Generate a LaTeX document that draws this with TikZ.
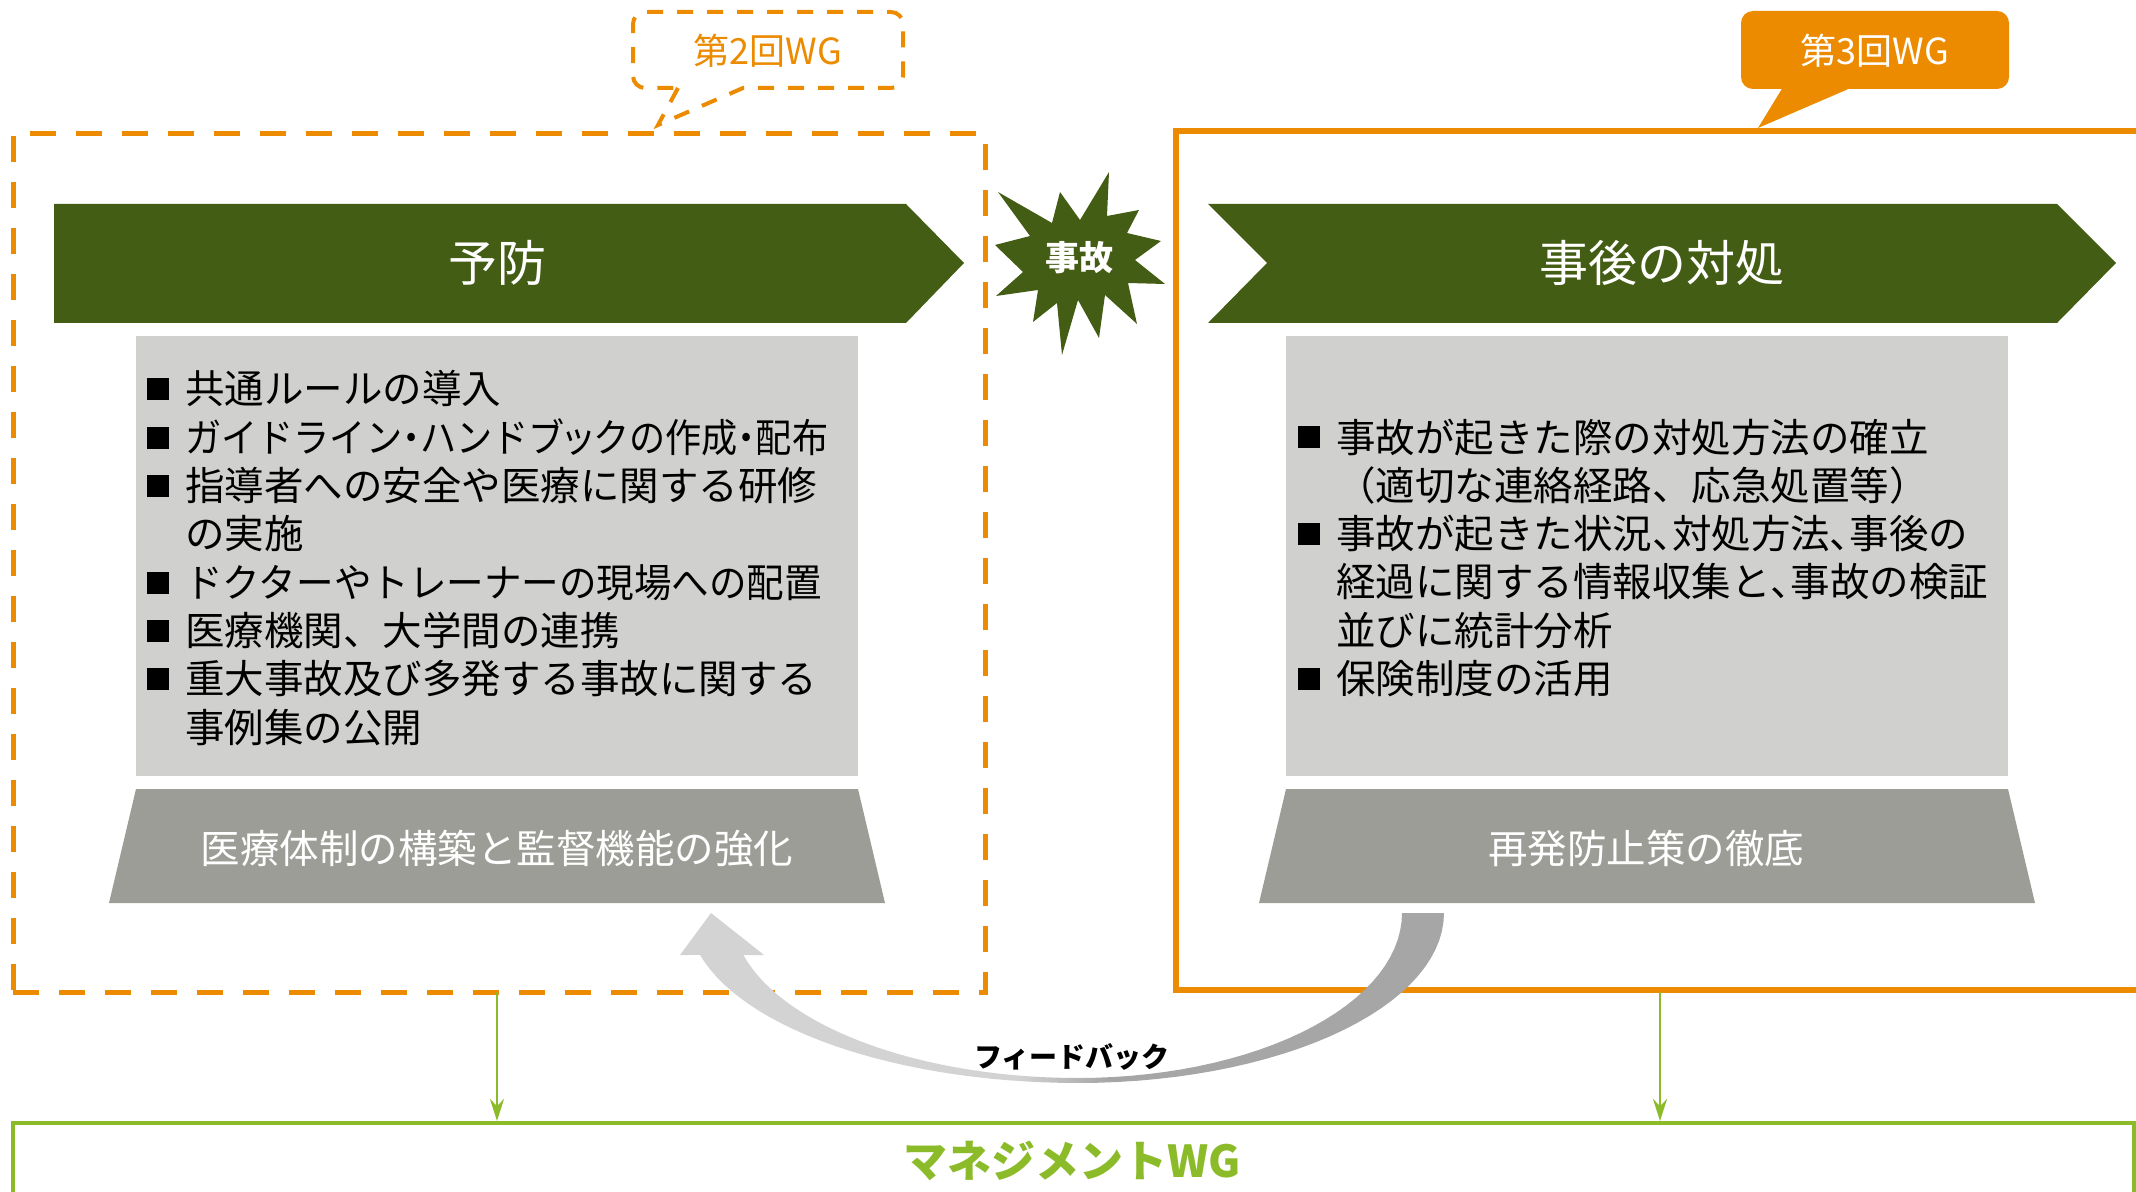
\documentclass[tikz,border=0pt]{standalone}
\usepackage{fontspec}
\usepackage{graphicx}
\setmainfont{Noto Sans CJK JP}
\newfontfamily\jpp{Noto Sans CJK JP}[RawFeature=+palt]
\usetikzlibrary{arrows.meta}
\definecolor{orng}{HTML}{EC8B00}
\definecolor{dkgreen}{HTML}{445D15}
\definecolor{boxgray}{HTML}{D0D0CE}
\definecolor{trapgray}{HTML}{9D9D98}
\definecolor{lgreen}{HTML}{8CBB2A}
\definecolor{fbL}{HTML}{D3D3D3}
\definecolor{fbR}{HTML}{A6A6A6}
\pgfdeclarehorizontalshading{fbshade}{100bp}{color(0bp)=(fbL); color(47bp)=(fbL); color(53bp)=(fbR); color(100bp)=(fbR)}
\newcommand\sqb{\makebox[19pt][l]{\rule[1.8pt]{11pt}{11pt}}}
\newcommand\pc{{\jpp 、}}
\tikzset{
  banner/.style={fill=dkgreen},
  bannertext/.style={text=white, font=\fontsize{24.5pt}{28pt}\selectfont, inner sep=0},
  listbox/.style={fill=boxgray},
  trapshape/.style={fill=trapgray},
  traptext/.style={text=white, font=\fontsize{19.75pt}{24pt}\selectfont, inner sep=0},
  listtext/.style={anchor=base west, inner sep=0, text width=380pt, align=left, font=\fontsize{19.75pt}{24.15pt}\selectfont},
  orngline/.style={draw=orng, line width=2.6pt},
  orngdash/.style={draw=orng, line width=2.3pt, dash pattern=on 13pt off 10pt},
  garrow/.style={draw=lgreen, line width=1.3pt, -{Stealth[length=11pt,width=7pt]}},
  calltext/.style={font=\fontsize{18pt}{20pt}\selectfont, inner sep=0},
}
\begin{document}
\begin{tikzpicture}[x=0.5pt,y=-0.5pt]
\useasboundingbox (0,0) rectangle (2136,1192);
\clip (0,0) rectangle (2136,1192);

% left dashed box (second WG)
\node[orngdash, anchor=north west, minimum width=486pt, minimum height=429.5pt, inner sep=0] (prev) at (11,131) {};
% right solid box (third WG)
\draw[orngline] (2150,131) -- (1176,131) -- (1176,990) -- (2150,990);

% callout 2 (dashed)
\draw[draw=orng, line width=2pt, dash pattern=on 8pt off 7pt, fill=white]
  (678,88) -- (658,125) -- (743,88) [rounded corners=6pt] -- (903,88) -- (903,12) -- (633,12) -- (633,88) [sharp corners] -- cycle;
\node[calltext, text=orng] (wg2) at (768,51) {第2回WG};

% callout 3 (filled)
\fill[orng, rounded corners=6pt] (1741,11) rectangle (2009,89);
\fill[orng] (1783,87) -- (1758,128) -- (1853,87) -- cycle;
\node[calltext, text=white] (wg3) at (1875,51) {第3回WG};

% banners
\fill[banner] (54,204) -- (906,204) -- (964,263) -- (906,323) -- (54,323) -- cycle;
\node[bannertext] (yobo) at (497,263) {予防};
\fill[banner] (1208,204) -- (2057,204) -- (2116,263) -- (2057,323) -- (1208,323) -- (1267,263) -- cycle;
\node[bannertext] (jigo) at (1662,263) {事後の対処};

% starburst
\fill[dkgreen] (1109,172) -- (1107,216) -- (1139,210) -- (1127,233) -- (1161,241) -- (1135,260)
  -- (1165,284) -- (1128,283) -- (1137,324) -- (1105,295) -- (1099,338) -- (1078,300)
  -- (1062,355) -- (1057,303) -- (1033,322) -- (1038,290) -- (996,296) -- (1023,272)
  -- (995,245) -- (1030,236) -- (998,192) -- (1052,223) -- (1060,192) -- (1080,220) -- cycle;
\node[text=white, font=\fontsize{17pt}{20pt}\selectfont\bfseries, inner sep=0] (jiko) at (1079,258) {事故};

% gray list boxes
\fill[listbox] (136,336) rectangle (858,776);
\fill[listbox] (1286,336) rectangle (2008,776);

\node[listtext] (llist) at (147,404) {%
\sqb{}共通ルールの導入\\
\sqb{}\scalebox{0.915}[1]{ガイドライン{\jpp ・}ハンドブ{\jpp ッ}クの作成{\jpp ・}配布}\\
\sqb{}指導者への安全や医療に関する研修\\
\hspace*{19pt}の実施\\
\sqb{}\scalebox{0.95}[1]{ドクターやトレーナーの現場への配置}\\
\sqb{}医療機関、大学間の連携\\
\sqb{}重大事故及び多発する事故に関する\\
\hspace*{19pt}事例集の公開};

\node[listtext] (rlist) at (1298,452) {%
\sqb{}事故が起きた際の対処方法の確立\\
\hspace*{19pt}（適切な連絡経路、応急処置等）\\
\sqb{}事故が起きた状況\pc 対処方法\pc 事後の\\
\hspace*{19pt}経過に関する情報収集と\pc 事故の検証\\
\hspace*{19pt}並びに統計分析\\
\sqb{}保険制度の活用};

% trapezoids
\fill[trapshape] (136,789) -- (858,789) -- (885,903) -- (109,903) -- cycle;
\node[traptext] (ltrap) at (497,849) {医療体制の構築と監督機能の強化};
\fill[trapshape] (1286,789) -- (2008,789) -- (2035,903) -- (1259,903) -- cycle;
\node[traptext] (rtrap) at (1646,849) {再発防止策の徹底};

% feedback arrow
\shade[shading=fbshade] (1444,913)
  -- plot[domain=0:90, samples=30, variable=\t] ({1078+366*cos(\t)},{913+170*sin(\t)})
  -- plot[domain=90:165.7, samples=30, variable=\t] ({1078+390*cos(\t)},{913+170*sin(\t)})
  -- (680,955) -- (711,913) -- (764,955) -- (743,955)
  -- plot[domain=165.25:90, samples=30, variable=\t] ({1078+346*cos(\t)},{913+165*sin(\t)})
  -- plot[domain=90:0, samples=30, variable=\t] ({1078+324*cos(\t)},{913+165*sin(\t)})
  -- cycle;
\node[font=\fontsize{14pt}{16pt}\selectfont\bfseries, inner sep=0] (fb) at (1072,1057) {フィードバック};

% management WG
\node[draw=lgreen, line width=1.9pt, anchor=north west, minimum width=1060.5pt, minimum height=80pt, inner sep=0] (mgmt) at (11,1121) {};
\node[text=lgreen, font=\fontsize{22pt}{26pt}\selectfont\bfseries, inner sep=0] (mgmtlabel) at (1072,1161) {マネジメントWG};

\coordinate (Ls) at (497,992);
\coordinate (Rs) at (1660,992);
\draw[garrow] (Ls) -- (Ls |- mgmt.north);
\draw[garrow] (Rs) -- (Rs |- mgmt.north);
\end{tikzpicture}
\end{document}
